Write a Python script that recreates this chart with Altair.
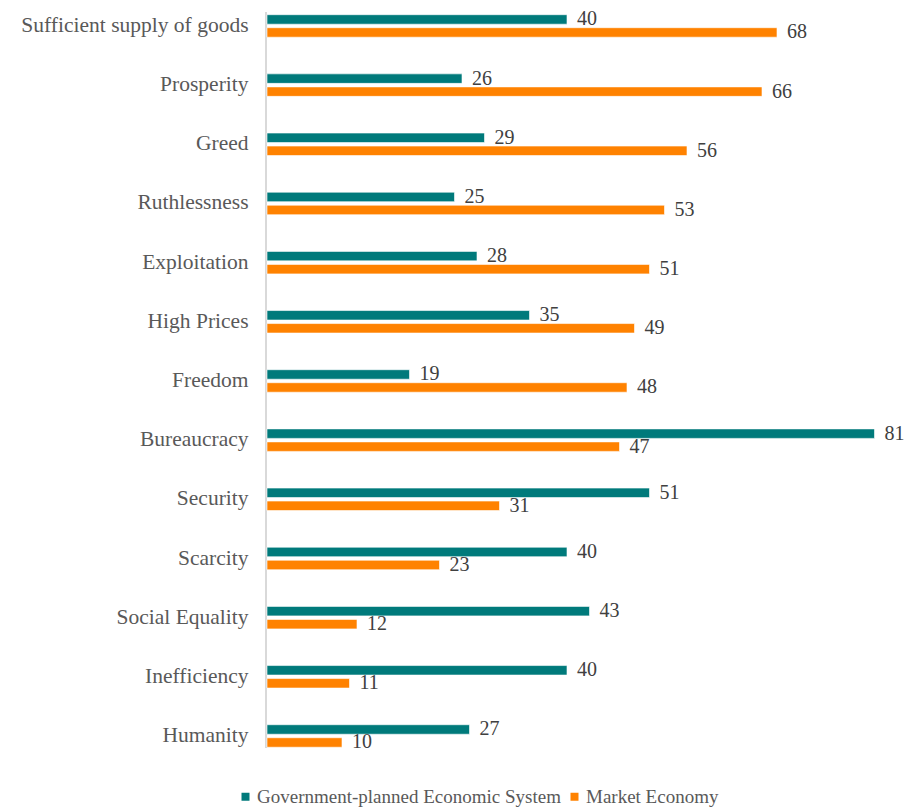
import altair as alt
import pandas as pd

categories = ["Sufficient supply of goods", "Prosperity", "Greed", "Ruthlessness",
              "Exploitation", "High Prices", "Freedom", "Bureaucracy", "Security",
              "Scarcity", "Social  Equality", "Inefficiency", "Humanity"]
gov_values = [40, 26, 29, 25, 28, 35, 19, 81, 51, 40, 43, 40, 27]
mkt_values = [68, 66, 56, 53, 51, 49, 48, 47, 31, 23, 12, 11, 10]
series = ["Government-planned Economic System", "Market Economy"]
colors = ["#007a7b", "#ff8200"]

rows = []
for c, g, m in zip(categories, gov_values, mkt_values):
    rows.append({"cat": c, "series": series[0], "value": g})
    rows.append({"cat": c, "series": series[1], "value": m})
df = pd.DataFrame(rows)

FONT = "Liberation Serif"

y_enc = alt.Y("cat:N", sort=categories,
              scale=alt.Scale(range=[-11.6, 757.6], paddingInner=0, paddingOuter=0),
              axis=alt.Axis(title=None, labelFontSize=21.5, labelFont=FONT,
                            labelColor="#595959", labelPadding=19, ticks=False,
                            domain=False, grid=False, labelLimit=300))
x_enc = alt.X("value:Q", scale=alt.Scale(domain=[0, 84], nice=False, zero=True), axis=None)
yoff = alt.YOffset("series:N", sort=series,
                   scale=alt.Scale(range=[18.3, 40.8], paddingInner=0.27, paddingOuter=0))

bars = alt.Chart(df).mark_bar(stroke="white", strokeWidth=0.6).encode(
    y=y_enc, x=x_enc, yOffset=yoff,
    color=alt.Color("series:N", sort=series,
                    scale=alt.Scale(domain=series, range=colors),
                    legend=alt.Legend(title=None, orient="none", direction="horizontal",
                                      legendX=-31, legendY=779, symbolType="square",
                                      symbolSize=64, symbolStrokeWidth=0,
                                      labelFont=FONT, labelFontSize=19,
                                      labelColor="#595959", labelOffset=2,
                                      columnPadding=4, labelLimit=400))
)

labels = alt.Chart(df).mark_text(align="left", baseline="middle", dx=10,
                                 font=FONT, fontSize=20, color="#404040").encode(
    y=alt.Y("cat:N", sort=categories), x="value:Q", yOffset=alt.YOffset("series:N", sort=series),
    text="value:Q"
)

axis_line = alt.Chart(df).mark_rule(color="#d9d9d9", strokeWidth=2).encode(
    x=alt.value(-1), y=alt.value(4), y2=alt.value(740)
)

chart = alt.layer(axis_line, bars, labels).properties(
    width=630, height=733,
    autosize=alt.AutoSizeParams(type="none"),
    padding={"left": 259, "top": 0, "right": 8, "bottom": 66}
).configure(background="white", view=alt.ViewConfig(stroke=None))

chart.save("out.html", embed_options={"renderer": "svg", "actions": False})
